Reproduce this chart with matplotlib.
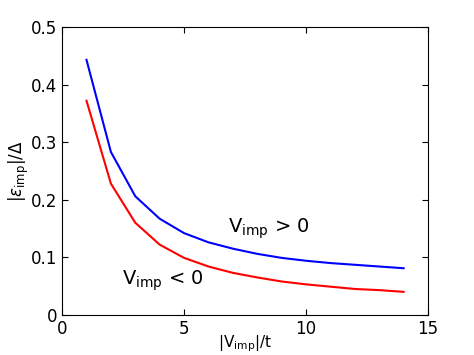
import matplotlib
matplotlib.use("Agg")
import matplotlib.pyplot as plt
import numpy as np

# |V_imp|/t and binding energy for both signs of the impurity potential
v_imp = [1, 2, 3, 4, 5, 6, 7, 8, 9, 10, 11, 12, 13, 14]
eps_pos = [0.443, 0.283, 0.206, 0.167, 0.142, 0.126, 0.115, 0.106,
           0.099, 0.094, 0.090, 0.087, 0.084, 0.081]
eps_neg = [0.372, 0.228, 0.160, 0.122, 0.099, 0.084, 0.073, 0.065,
           0.058, 0.053, 0.049, 0.045, 0.043, 0.040]

plt.rcParams["mathtext.fontset"] = "dejavusans"

fig = plt.figure(figsize=(4.74, 3.55), dpi=100)
ax = fig.add_axes([0.131, 0.113, 0.772, 0.811])

ax.plot(v_imp, eps_pos, color="blue", lw=1.5)
ax.plot(v_imp, eps_neg, color="red", lw=1.5)

ax.text(6.8, 0.143, r"V$_{\mathrm{imp}}$ > 0", fontsize=14)
ax.text(2.45, 0.052, r"V$_{\mathrm{imp}}$ < 0", fontsize=14)

ax.set_xlim(0, 15)
ax.set_ylim(0, 0.5)
ax.set_xticks([0, 5, 10, 15])
ax.set_yticks([0, 0.1, 0.2, 0.3, 0.4, 0.5])
ax.set_yticklabels(["0", "0.1", "0.2", "0.3", "0.4", "0.5"])
ax.tick_params(direction="in", top=True, right=True, labelsize=12, length=4)
ax.set_xlabel(r"|V$_{\mathrm{imp}}$|/t", fontsize=11, labelpad=-3)
ax.set_ylabel(r"|$\varepsilon_{\mathrm{imp}}$|/$\Delta$", fontsize=12, labelpad=0)

fig.savefig("out.png", dpi=100)
